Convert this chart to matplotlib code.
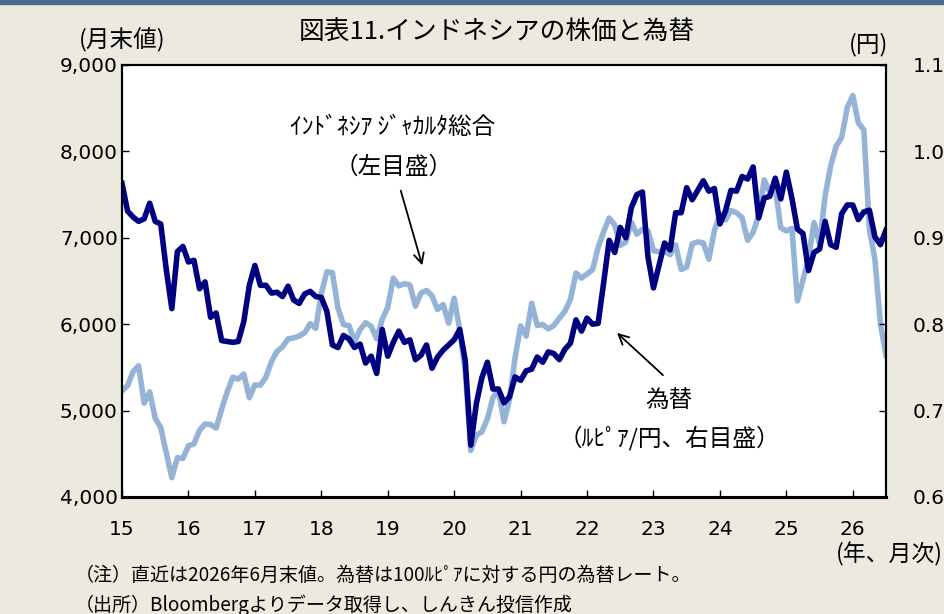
import matplotlib
matplotlib.use('Agg')
import matplotlib.pyplot as plt
import numpy as np

plt.rcParams['font.family'] = ['DejaVu Sans', 'Noto Sans CJK JP']
JP = ['Noto Sans CJK JP', 'DejaVu Sans']

# month-end values, Dec 2014 .. Jun 2026
jci = [5227,
       5289, 5450, 5519, 5086, 5216, 4911, 4803, 4510, 4224, 4455, 4446, 4593,
       4615, 4771, 4845, 4839, 4797, 5017, 5216, 5386, 5365, 5423, 5149, 5297,
       5294, 5387, 5568, 5685, 5738, 5830, 5841, 5864, 5901, 6006, 5952, 6356,
       6606, 6597, 6189, 5995, 5984, 5799, 5936, 6018, 5977, 5832, 6056, 6194,
       6533, 6443, 6469, 6455, 6209, 6359, 6391, 6328, 6169, 6228, 6012, 6300,
       5940, 5453, 4539, 4716, 4754, 4905, 5149, 5238, 4870, 5128, 5612, 5979,
       5862, 6242, 5986, 5996, 5947, 5985, 6070, 6150, 6287, 6592, 6534, 6581,
       6631, 6888, 7071, 7229, 7149, 6912, 6951, 7179, 7041, 7099, 7081, 6851,
       6839, 6843, 6805, 6916, 6633, 6662, 6931, 6953, 6940, 6752, 7081, 7273,
       7207, 7316, 7289, 7234, 6971, 7064, 7256, 7670, 7528, 7575, 7114, 7080,
       7109, 6270, 6511, 6766, 7176, 6927, 7484, 7830, 8061, 8164, 8508, 8646,
       8330, 8250, 7100, 6750, 6000, 5640]

fx = [0.963,
      0.931, 0.924, 0.919, 0.922, 0.940, 0.919, 0.916, 0.863, 0.818, 0.884, 0.890, 0.872,
      0.874, 0.841, 0.849, 0.808, 0.813, 0.781, 0.780, 0.779, 0.780, 0.803, 0.845, 0.868,
      0.845, 0.845, 0.836, 0.837, 0.832, 0.844, 0.828, 0.824, 0.835, 0.838, 0.832, 0.831,
      0.815, 0.776, 0.773, 0.787, 0.783, 0.773, 0.777, 0.755, 0.763, 0.743, 0.794, 0.763,
      0.779, 0.792, 0.779, 0.782, 0.759, 0.764, 0.776, 0.749, 0.762, 0.770, 0.776, 0.782,
      0.794, 0.758, 0.660, 0.708, 0.738, 0.756, 0.725, 0.725, 0.709, 0.716, 0.739, 0.735,
      0.746, 0.748, 0.762, 0.756, 0.768, 0.766, 0.759, 0.771, 0.778, 0.805, 0.792, 0.807,
      0.800, 0.801, 0.848, 0.897, 0.883, 0.912, 0.900, 0.935, 0.950, 0.953, 0.878, 0.842,
      0.868, 0.894, 0.886, 0.929, 0.929, 0.958, 0.944, 0.955, 0.966, 0.954, 0.957, 0.916,
      0.931, 0.955, 0.954, 0.971, 0.968, 0.982, 0.923, 0.946, 0.948, 0.969, 0.945, 0.976,
      0.946, 0.910, 0.905, 0.862, 0.883, 0.887, 0.919, 0.892, 0.889, 0.928, 0.938, 0.938,
      0.921, 0.930, 0.932, 0.901, 0.892, 0.909]

year_labels = ['15', '16', '17', '18', '19', '20', '21', '22', '23', '24', '25', '26']
left_ticks = [4000, 5000, 6000, 7000, 8000, 9000]
right_ticks = [0.6, 0.7, 0.8, 0.9, 1.0, 1.1]

W, H = 945, 614
fig = plt.figure(figsize=(W / 100, H / 100), dpi=100)
fig.patch.set_facecolor('#ECE9DF')

# top band
fig.add_artist(plt.Rectangle((0, 1 - 4 / H), 1, 4 / H, transform=fig.transFigure,
                             color='#4B6A8E', zorder=0))

ax = fig.add_axes([122 / W, 1 - 497 / H, (886 - 122) / W, (497 - 65) / H])
ax.set_facecolor('white')
x = np.arange(len(jci))
ax.plot(x, jci, color='#95B3D7', lw=4, solid_joinstyle='round')
ax.set_ylim(4000, 9000)
ax.set_xlim(0, len(jci) - 1)
ax.set_yticks(left_ticks)
ax.set_yticklabels(['{:,}'.format(v) for v in left_ticks])
ax.set_xticks(range(0, 12 * len(year_labels), 12))
ax.tick_params(axis='x', direction='in', length=5, width=1, labelbottom=False)
ax.tick_params(axis='y', direction='in', length=5, width=1, labelsize=14.5, pad=3)

# year labels under the ticks, placed well below the axis like the original
for xt, lab in zip(ax.get_xticks(), year_labels):
    ax.text(xt, -0.076, lab, transform=ax.get_xaxis_transform(),
            ha='center', va='center', fontsize=14.5)

ax2 = ax.twinx()
ax2.plot(x, fx, color='#000080', lw=4, solid_joinstyle='round')
ax2.set_ylim(0.6, 1.1)
ax2.set_yticks(right_ticks)
ax2.set_yticklabels(['{:.1f}'.format(v) for v in right_ticks])
ax2.tick_params(axis='y', direction='in', length=5, width=1, labelsize=14.5, pad=19)

for a in (ax, ax2):
    for s in a.spines.values():
        s.set_linewidth(1.5)
    a.spines['bottom'].set_linewidth(2.2)

# texts
def ftext(px, py, s, size, ha='center'):
    fig.text(px / W, 1 - py / H, s, fontsize=size, ha=ha, va='center', family=JP)

ftext(497, 33, '図表11.インドネシアの株価と為替', 18.5)
ftext(122, 40, '(月末値)', 17)
ftext(869, 45, '(円)', 17)
ftext(889, 554, '(年、月次)', 16.5)
ftext(393, 128, 'ｲﾝﾄﾞﾈｼｱ ｼﾞｬｶﾙﾀ総合', 17)
ftext(394, 167, '（左目盛）', 17)
ftext(669, 400, '為替', 17)
ftext(669, 438, '（ﾙﾋﾟｱ/円、右目盛）', 17)
ftext(75, 575, '（注）直近は2026年6月末値。為替は100ﾙﾋﾟｱに対する円の為替レート。', 13.7, ha='left')
ftext(75, 605, '（出所）Bloombergよりデータ取得し、しんきん投信作成', 13.7, ha='left')

arrow = dict(arrowstyle='->', color='black', lw=1.3, mutation_scale=18)
ax.annotate('', xy=(423 / W, 1 - 268 / H), xytext=(400 / W, 1 - 188 / H),
            xycoords='figure fraction', textcoords='figure fraction', arrowprops=arrow)
ax.annotate('', xy=(615 / W, 1 - 331 / H), xytext=(665 / W, 1 - 377 / H),
            xycoords='figure fraction', textcoords='figure fraction', arrowprops=arrow)

fig.savefig('out.png', dpi=100, facecolor=fig.get_facecolor())
